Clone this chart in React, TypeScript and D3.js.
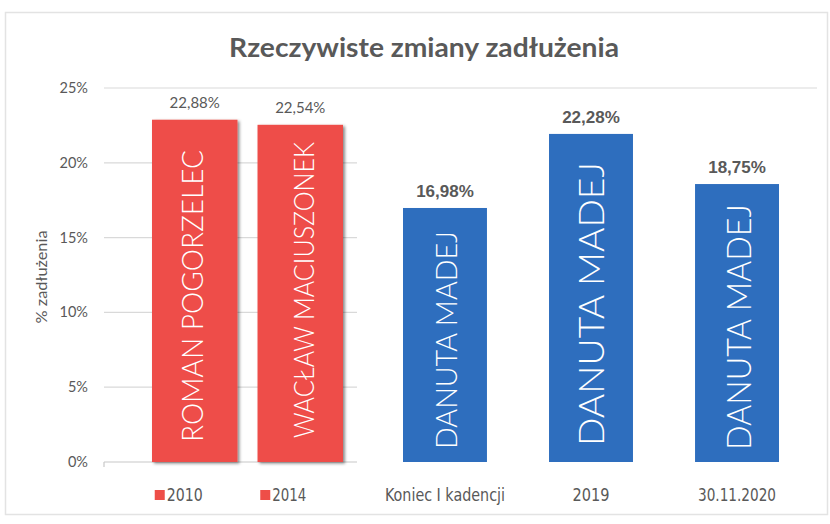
import React, { useEffect } from "react";
import * as d3 from "d3";

const title = "Rzeczywiste zmiany zadłużenia";
const yAxisTitle = "% zadłużenia";
const yTicks = [0, 5, 10, 15, 20, 25];
const redCategories = ["2010", "2014"];
const redValues = [22.88, 22.54];
const redLabels = ["22,88%", "22,54%"];
const redNames = ["ROMAN POGORZELEC", "WACŁAW MACIUSZONEK"];
const blueCategories = ["Koniec I kadencji", "2019", "30.11.2020"];
const blueValues = [16.98, 21.93, 18.58];
const blueLabels = ["16,98%", "22,28%", "18,75%"];
const blueNames = ["DANUTA MADEJ", "DANUTA MADEJ", "DANUTA MADEJ"];

const RED = "#EE4E48";
const BLUE = "#2E6EBE";
const GRAY = "#595959";

export default function App() {
  useEffect(() => {
    document.body.style.margin = "0";
  }, []);

  const W = 830;
  const H = 524;
  const y = d3.scaleLinear().domain([0, 25]).range([462, 88]);
  const xRed = d3.scaleBand<string>().domain(redCategories).range([152, 343]).paddingInner(0.19).paddingOuter(0);
  const xBlue = d3.scaleBand<string>().domain(blueCategories).range([403, 779]).paddingInner(0.425).paddingOuter(0);

  // layout of rotated names inside bars
  const redNameStyle = [
    { size: 30, len: 292, start: 442, dx: -3 },
    { size: 28, len: 296, start: 438, dx: 4 },
  ];
  const blueNameStyle = [
    { size: 30, len: 218, start: 449, dx: 1 },
    { size: 36, len: 284, start: 446, dx: 0 },
    { size: 33, len: 246, start: 450, dx: 2 },
  ];
  const xLabelLen = [36, 34, 120, 37, 78];

  const sansCal = "Lato, 'Open Sans', sans-serif";
  const narrow = "'Liberation Sans Narrow', 'DejaVu Sans Condensed', 'Liberation Sans', sans-serif";

  return (
    <div style={{ position: "absolute", left: 0, top: 0 }}>
      <svg width={W} height={H} style={{ display: "block", background: "#fff" }}>
        <defs>
          <filter id="shadow" x="-20%" y="-5%" width="140%" height="110%">
            <feDropShadow dx="2" dy="1.5" stdDeviation="1.5" floodColor="#000" floodOpacity="0.45" />
          </filter>
        </defs>
        <rect x={5.5} y={12.5} width={822} height={502} fill="#fff" stroke="#e3e3e3" strokeWidth={1.5} />

        <text
          x={424}
          y={57}
          textAnchor="middle"
          fontFamily={sansCal}
          fontWeight={700}
          fontSize={27}
          fill={GRAY}
          textLength={390}
          lengthAdjust="spacingAndGlyphs"
        >
          {title}
        </text>

        {/* gridlines */}
        {yTicks.map((t) => (
          <line
            key={t}
            x1={104}
            x2={t === 25 ? 817 : 357}
            y1={y(t)}
            y2={y(t)}
            stroke={t === 0 ? "#c8c8c8" : "#d9d9d9"}
            strokeWidth={1.2}
          />
        ))}
        <line x1={104} x2={104} y1={y(0)} y2={y(0) + 5} stroke="#c8c8c8" strokeWidth={1.2} />

        {/* y tick labels */}
        {yTicks.map((t) => (
          <text key={t} x={88} y={y(t) + 5} textAnchor="end" fontFamily={sansCal} fontSize={14.5} fill={GRAY}>
            {`${t}%`}
          </text>
        ))}
        <text
          transform={`translate(47,277) rotate(-90)`}
          textAnchor="middle"
          fontFamily={sansCal}
          fontSize={14.5}
          fill={GRAY}
          textLength={93}
          lengthAdjust="spacingAndGlyphs"
        >
          {yAxisTitle}
        </text>

        {/* red bars */}
        {redCategories.map((c, i) => {
          const x0 = xRed(c)!;
          const bw = xRed.bandwidth();
          const cx = x0 + bw / 2;
          const st = redNameStyle[i];
          return (
            <g key={c}>
              <rect x={x0} y={y(redValues[i])} width={bw} height={y(0) - y(redValues[i])} fill={RED} filter="url(#shadow)" />
              <text x={cx} y={y(redValues[i]) - 12} textAnchor="middle" fontFamily={sansCal} fontSize={15} fill={GRAY}>
                {redLabels[i]}
              </text>
              <text
                transform={`translate(${cx + st.dx + st.size * 0.36},${st.start}) rotate(-90)`}
                fontFamily={sansCal}
                fontWeight={300}
                fontSize={st.size}
                fill="#fff"
                textLength={st.len}
                lengthAdjust="spacingAndGlyphs"
              >
                {redNames[i]}
              </text>
              <rect x={cx - 40} y={490} width={10} height={10} fill={RED} />
              <text
                x={cx - 28}
                y={501}
                fontFamily={narrow}
                fontSize={17}
                fill={GRAY}
                textLength={xLabelLen[i]}
                lengthAdjust="spacingAndGlyphs"
              >
                {c}
              </text>
            </g>
          );
        })}

        {/* blue bars */}
        {blueCategories.map((c, i) => {
          const x0 = xBlue(c)!;
          const bw = xBlue.bandwidth();
          const cx = x0 + bw / 2;
          const st = blueNameStyle[i];
          return (
            <g key={c}>
              <rect x={x0} y={y(blueValues[i])} width={bw} height={y(0) - y(blueValues[i])} fill={BLUE} />
              <text
                x={cx}
                y={y(blueValues[i]) - 11}
                textAnchor="middle"
                fontFamily="'Liberation Sans', Arial, sans-serif"
                fontWeight={700}
                fontSize={17}
                fill={GRAY}
              >
                {blueLabels[i]}
              </text>
              <text
                transform={`translate(${cx + st.dx + st.size * 0.36},${st.start}) rotate(-90)`}
                fontFamily={sansCal}
                fontWeight={300}
                fontSize={st.size}
                fill="#fff"
                textLength={st.len}
                lengthAdjust="spacingAndGlyphs"
              >
                {blueNames[i]}
              </text>
              <text
                x={cx}
                y={501}
                textAnchor="middle"
                fontFamily={narrow}
                fontSize={17}
                fill={GRAY}
                textLength={xLabelLen[i + 2]}
                lengthAdjust="spacingAndGlyphs"
              >
                {c}
              </text>
            </g>
          );
        })}
      </svg>
    </div>
  );
}
